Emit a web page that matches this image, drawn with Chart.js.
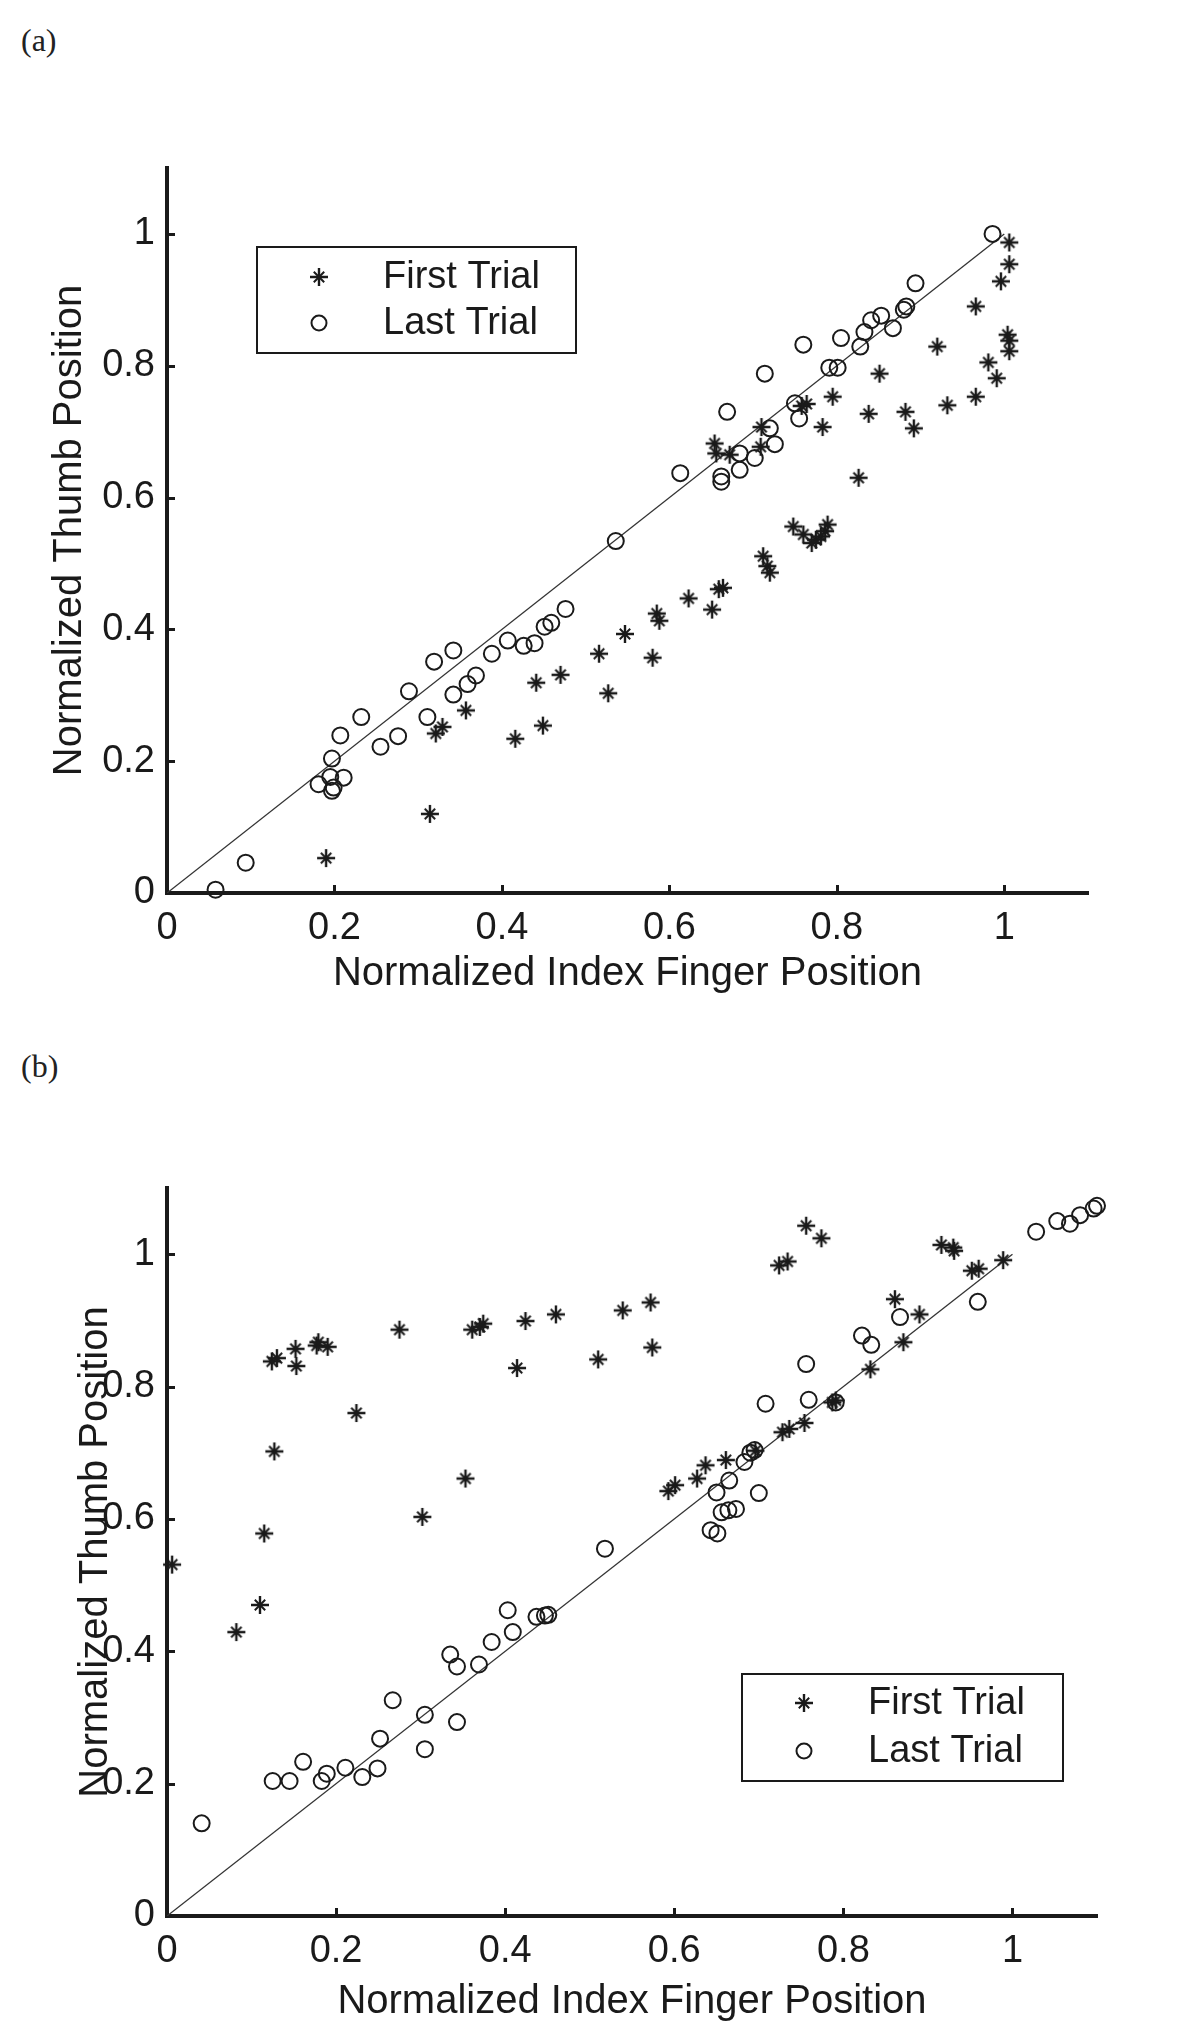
<!DOCTYPE html>
<html>
<head>
<meta charset="utf-8">
<script src="https://cdn.jsdelivr.net/npm/chart.js@4.4.1/dist/chart.umd.min.js"></script>
<style>
  html, body { margin: 0; padding: 0; background: #fff; }
  body { width: 1200px; height: 2026px; position: relative; overflow: hidden; }
  .panel-label { position: absolute; left: 21px; font-family: "Liberation Serif", "Times New Roman", serif; font-size: 32px; line-height: 32px; color: #222; }
  canvas { position: absolute; left: 0; }
</style>
</head>
<body>
<div class="panel-label" style="top: 24px">(a)</div>
<canvas id="chartA" width="1200" height="1013" style="top: 0"></canvas>
<div class="panel-label" style="top: 1050px">(b)</div>
<canvas id="chartB" width="1200" height="1013" style="top: 1013px"></canvas>

<script>
// ---- data ----
const seriesLabels = ['First Trial', 'Last Trial'];
const xTicks = [0, 0.2, 0.4, 0.6, 0.8, 1];
const yTicks = [0, 0.2, 0.4, 0.6, 0.8, 1];
const unityX = [0, 1];
const unityY = [0, 1];

// (a) first trial (stars)
const aFirstX = [0.190, 0.314, 0.321, 0.329, 0.357, 0.416, 0.441, 0.449, 0.470, 0.516, 0.527, 0.547,
    0.580, 0.585, 0.588, 0.623, 0.651, 0.659, 0.664, 0.712, 0.717, 0.720, 0.748, 0.760, 0.770, 0.775,
    0.781, 0.786, 0.789, 0.826, 0.783, 0.838, 0.795, 0.851, 0.882, 0.892, 0.932, 0.966, 0.920, 0.966,
    0.981, 0.991, 1.004, 1.006, 1.006, 0.996, 1.006, 1.006, 0.654, 0.656, 0.672, 0.710, 0.709, 0.758, 0.764];
const aFirstY = [0.053, 0.120, 0.242, 0.252, 0.277, 0.234, 0.319, 0.254, 0.331, 0.363, 0.303, 0.393,
    0.357, 0.424, 0.413, 0.447, 0.430, 0.461, 0.463, 0.511, 0.496, 0.486, 0.556, 0.544, 0.531, 0.536,
    0.541, 0.549, 0.559, 0.630, 0.707, 0.727, 0.753, 0.788, 0.730, 0.705, 0.740, 0.753, 0.829, 0.890,
    0.805, 0.781, 0.847, 0.838, 0.822, 0.928, 0.954, 0.987, 0.682, 0.667, 0.665, 0.707, 0.677, 0.739, 0.742];

// (a) last trial (circles)
const aLastX = [0.058, 0.094, 0.181, 0.197, 0.199, 0.195, 0.197, 0.211, 0.207, 0.232, 0.255, 0.276,
    0.289, 0.311, 0.319, 0.342, 0.342, 0.359, 0.369, 0.388, 0.407, 0.426, 0.439, 0.451, 0.459, 0.476,
    0.536, 0.613, 0.662, 0.662, 0.684, 0.684, 0.702, 0.726, 0.720, 0.669, 0.714, 0.750, 0.755, 0.760,
    0.791, 0.801, 0.805, 0.828, 0.833, 0.841, 0.853, 0.867, 0.883, 0.880, 0.894, 0.986];
const aLastY = [0.005, 0.046, 0.165, 0.155, 0.160, 0.176, 0.204, 0.175, 0.239, 0.267, 0.222, 0.238,
    0.306, 0.267, 0.351, 0.368, 0.301, 0.317, 0.330, 0.363, 0.383, 0.375, 0.379, 0.404, 0.410, 0.431,
    0.534, 0.637, 0.632, 0.624, 0.642, 0.667, 0.660, 0.681, 0.705, 0.730, 0.788, 0.743, 0.720, 0.832,
    0.797, 0.797, 0.842, 0.829, 0.851, 0.869, 0.876, 0.857, 0.890, 0.885, 0.925, 1.000];

// (b) first trial (stars)
const bFirstX = [0.006, 0.082, 0.110, 0.115, 0.127, 0.124, 0.130, 0.152, 0.153, 0.177, 0.179, 0.190,
    0.224, 0.275, 0.302, 0.353, 0.361, 0.370, 0.374, 0.414, 0.424, 0.460, 0.510, 0.539, 0.572, 0.574,
    0.593, 0.601, 0.627, 0.637, 0.661, 0.696, 0.724, 0.734, 0.728, 0.736, 0.754, 0.756, 0.774, 0.787,
    0.791, 0.832, 0.861, 0.871, 0.890, 0.916, 0.930, 0.931, 0.952, 0.960, 0.989];
const bFirstY = [0.531, 0.429, 0.470, 0.578, 0.702, 0.838, 0.843, 0.857, 0.831, 0.862, 0.867, 0.860,
    0.760, 0.886, 0.603, 0.661, 0.886, 0.890, 0.895, 0.828, 0.899, 0.909, 0.841, 0.915, 0.927, 0.859,
    0.642, 0.651, 0.661, 0.681, 0.689, 0.703, 0.983, 0.989, 0.731, 0.736, 0.745, 1.043, 1.024, 0.776,
    0.779, 0.826, 0.932, 0.867, 0.909, 1.014, 1.010, 1.005, 0.975, 0.978, 0.991];

// (b) last trial (circles)
const bLastX = [0.041, 0.125, 0.145, 0.161, 0.183, 0.189, 0.211, 0.231, 0.249, 0.252, 0.267, 0.305,
    0.305, 0.335, 0.343, 0.343, 0.369, 0.384, 0.403, 0.409, 0.437, 0.447, 0.451, 0.518, 0.643, 0.651,
    0.656, 0.664, 0.673, 0.650, 0.665, 0.700, 0.683, 0.690, 0.695, 0.708, 0.756, 0.759, 0.791, 0.822,
    0.833, 0.867, 0.959, 1.028, 1.053, 1.068, 1.080, 1.096, 1.100];
const bLastY = [0.140, 0.204, 0.204, 0.233, 0.204, 0.215, 0.224, 0.210, 0.223, 0.268, 0.326, 0.304,
    0.252, 0.395, 0.377, 0.293, 0.380, 0.414, 0.462, 0.429, 0.452, 0.454, 0.455, 0.555, 0.583, 0.578,
    0.610, 0.613, 0.615, 0.640, 0.658, 0.639, 0.686, 0.700, 0.704, 0.774, 0.834, 0.780, 0.776, 0.877,
    0.863, 0.905, 0.928, 1.034, 1.050, 1.046, 1.059, 1.069, 1.073];

// ---- drawing ----
const ink = '#1a1a1a';
const fontFamily = '"Liberation Sans", Arial, sans-serif';

function toPoints(xs, ys) {
    return xs.map((x, i) => ({ x: x, y: ys[i] }));
}

// matlab style '*' marker
function makeStar(size) {
    const c = document.createElement('canvas');
    c.width = size;
    c.height = size;
    const ctx = c.getContext('2d');
    const m = size / 2, arm = size / 2 - 1, diag = size * 0.26;
    ctx.strokeStyle = ink;
    ctx.lineWidth = 2.4;
    ctx.beginPath();
    ctx.moveTo(m - arm, m); ctx.lineTo(m + arm, m);
    ctx.moveTo(m, m - arm); ctx.lineTo(m, m + arm);
    ctx.stroke();
    ctx.lineWidth = 2;
    ctx.beginPath();
    ctx.moveTo(m - diag, m - diag); ctx.lineTo(m + diag, m + diag);
    ctx.moveTo(m - diag, m + diag); ctx.lineTo(m + diag, m - diag);
    ctx.stroke();
    return c;
}

const starMarker = makeStar(20);

// inward ticks + boxed legend inside the axes
const matlabAxes = {
    id: 'matlabAxes',
    afterDraw(chart, args, opts) {
        const ctx = chart.ctx;
        const area = chart.chartArea;
        const xs = chart.scales.x, ys = chart.scales.y;
        ctx.save();
        ctx.strokeStyle = ink;
        ctx.lineWidth = 3;
        ctx.beginPath();
        xTicks.filter(v => v > 0).forEach(v => {
            const px = Math.round(xs.getPixelForValue(v)) + 0.5;
            ctx.moveTo(px, area.bottom);
            ctx.lineTo(px, area.bottom - 8);
        });
        yTicks.filter(v => v > 0).forEach(v => {
            const py = Math.round(ys.getPixelForValue(v)) + 0.5;
            ctx.moveTo(area.left, py);
            ctx.lineTo(area.left + 8, py);
        });
        ctx.stroke();

        const box = opts.box;
        const bx = area.left + box.left, by = area.top + box.top;
        ctx.fillStyle = '#fff';
        ctx.fillRect(bx, by, box.width, box.height);
        ctx.lineWidth = 2;
        ctx.strokeRect(bx, by, box.width, box.height);
        ctx.font = '38px ' + fontFamily;
        ctx.fillStyle = ink;
        ctx.textBaseline = 'middle';
        ctx.textAlign = 'left';
        chart.data.datasets.filter(d => d.label).forEach((d, i) => {
            const rowY = by + box.rowTop + i * box.rowGap;
            const mx = bx + box.markerX;
            if (d.pointStyle === 'circle') {
                ctx.beginPath();
                ctx.arc(mx, rowY, 7.5, 0, Math.PI * 2);
                ctx.stroke();
            } else {
                ctx.drawImage(d.pointStyle, mx - d.pointStyle.width / 2, rowY - d.pointStyle.height / 2);
            }
            ctx.fillText(d.label, bx + box.textX, rowY + 1);
        });
        ctx.restore();
    }
};

function makeAxis(title, titlePad, tickPad, size, horizontal) {
    return {
        type: 'linear',
        min: 0,
        max: 1.1,
        grid: { display: false, drawTicks: false },
        border: { display: true, width: 4, color: ink },
        afterBuildTicks: function (scale) {
            scale.ticks = (horizontal ? xTicks : yTicks).map(v => ({ value: v }));
        },
        afterFit: function (scale) {
            if (horizontal) scale.height = size; else scale.width = size;
        },
        ticks: {
            color: ink,
            padding: tickPad,
            font: { family: fontFamily, size: 38 },
            callback: function (v) { return String(v); }
        },
        title: {
            display: true,
            text: title,
            color: ink,
            font: { family: fontFamily, size: 40 },
            padding: horizontal ? { top: 0, bottom: titlePad } : { top: titlePad, bottom: 0 }
        }
    };
}

function loadChart(canvasId, firstX, firstY, lastX, lastY, layout) {
    new Chart(document.getElementById(canvasId), {
        data: {
            datasets: [{
                type: 'line',
                label: '',
                data: toPoints(unityX, unityY),
                borderColor: '#333',
                borderWidth: 1.3,
                pointRadius: 0,
                order: 3
            }, {
                type: 'scatter',
                label: seriesLabels[0],
                data: toPoints(firstX, firstY),
                pointStyle: starMarker,
                pointRadius: 10,
                clip: false,
                order: 2
            }, {
                type: 'scatter',
                label: seriesLabels[1],
                data: toPoints(lastX, lastY),
                pointStyle: 'circle',
                pointRadius: 8,
                borderWidth: 2,
                borderColor: ink,
                backgroundColor: 'rgba(0, 0, 0, 0)',
                clip: false,
                order: 1
            }]
        },
        options: {
            responsive: false,
            animation: false,
            events: [],
            layout: { padding: layout.padding },
            plugins: {
                legend: { display: false },
                tooltip: { enabled: false },
                matlabAxes: { box: layout.legend }
            },
            scales: {
                x: makeAxis('Normalized Index Finger Position', layout.xTitlePad, layout.xTickPad, layout.xHeight, true),
                y: makeAxis('Normalized Thumb Position', layout.yTitlePad, 12, 167, false)
            }
        },
        plugins: [matlabAxes]
    });
}

loadChart('chartA', aFirstX, aFirstY, aLastX, aLastY, {
    padding: { top: 168, right: 112, bottom: 0, left: 0 },
    xHeight: 120,
    xTickPad: 13,
    xTitlePad: 15,
    yTitlePad: 46,
    legend: { left: 90, top: 79, width: 319, height: 106, markerX: 62, textX: 126, rowTop: 30, rowGap: 46 }
});

loadChart('chartB', bFirstX, bFirstY, bLastX, bLastY, {
    padding: { top: 175, right: 103, bottom: 0, left: 0 },
    xHeight: 110,
    xTickPad: 13,
    xTitlePad: 0,
    yTitlePad: 72,
    legend: { left: 575, top: 486, width: 321, height: 107, markerX: 62, textX: 126, rowTop: 29, rowGap: 48 }
});
</script>
</body>
</html>
